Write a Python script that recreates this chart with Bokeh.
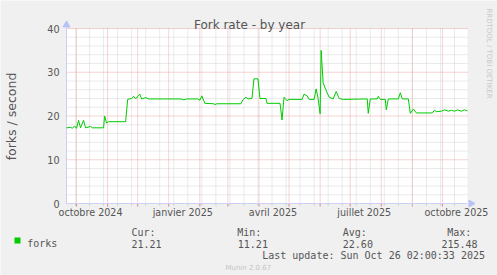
import math
import pandas as pd
from bokeh.plotting import figure
from bokeh.models import Label, Range1d, BoxAnnotation
from bokeh.core.properties import value
from bokeh.embed import file_html
from bokeh.resources import INLINE

# ---------------- data ----------------
START = pd.Timestamp("2024-09-21")
END = pd.Timestamp("2025-10-26")

dates = [
    "2024-09-21", "2024-09-25", "2024-09-27", "2024-09-29", "2024-10-01", "2024-10-03",
    "2024-10-05", "2024-10-08", "2024-10-10", "2024-10-15", "2024-10-17", "2024-10-28",
    "2024-10-29", "2024-10-31", "2024-11-02", "2024-11-19", "2024-11-21", "2024-11-25",
    "2024-11-27", "2024-11-29", "2024-12-03", "2024-12-05", "2024-12-09", "2024-12-12",
    "2025-01-13", "2025-01-16", "2025-01-19", "2025-01-30", "2025-02-01", "2025-02-03",
    "2025-02-06", "2025-02-15", "2025-02-16", "2025-02-18", "2025-03-14", "2025-03-16",
    "2025-03-19", "2025-03-21", "2025-03-25", "2025-03-27", "2025-03-31", "2025-04-02",
    "2025-04-08", "2025-04-09", "2025-04-22", "2025-04-24", "2025-04-26", "2025-04-29",
    "2025-05-01", "2025-05-14", "2025-05-16", "2025-05-19", "2025-05-21", "2025-05-26",
    "2025-05-28", "2025-05-30", "2025-06-01", "2025-06-02", "2025-06-04", "2025-06-06",
    "2025-06-08", "2025-06-10", "2025-06-14", "2025-06-17", "2025-06-20", "2025-06-24",
    "2025-07-18", "2025-07-19", "2025-07-21", "2025-07-28", "2025-07-29", "2025-07-31",
    "2025-08-05", "2025-08-06", "2025-08-08", "2025-08-18", "2025-08-20", "2025-08-22",
    "2025-08-28", "2025-08-30", "2025-09-02", "2025-09-05", "2025-09-21", "2025-09-23",
    "2025-09-25", "2025-09-30", "2025-10-03", "2025-10-07", "2025-10-10", "2025-10-13",
    "2025-10-16", "2025-10-20", "2025-10-23", "2025-10-26",
]
forks = [
    17.3, 17.4, 17.2, 17.7, 17.2, 19.0,
    17.3, 19.0, 17.3, 17.6, 17.3, 17.3,
    20.0, 18.4, 18.7, 18.7, 23.8, 24.0,
    24.5, 23.9, 25.0, 23.9, 24.2, 23.9,
    23.9, 23.7, 23.9, 23.9, 23.6, 24.6,
    22.9, 22.8, 22.6, 22.8, 22.8, 23.7,
    24.3, 23.9, 24.0, 28.5, 28.5, 24.0,
    24.0, 22.9, 22.9, 19.1, 24.3, 23.5,
    23.8, 23.8, 25.0, 24.6, 23.8, 23.8,
    26.2, 24.0, 20.5, 35.0, 27.6, 26.4,
    25.3, 24.3, 23.9, 25.6, 24.0, 23.8,
    23.9, 20.6, 23.9, 23.9, 24.5, 23.8,
    23.8, 21.4, 23.9, 23.9, 25.3, 23.9,
    23.9, 20.6, 21.6, 20.7, 20.7, 21.3,
    21.0, 21.1, 21.4, 21.1, 21.3, 21.1,
    21.4, 21.1, 21.4, 21.2,
]

month_starts = [
    "2024-10-01", "2024-11-01", "2024-12-01", "2025-01-01", "2025-02-01", "2025-03-01",
    "2025-04-01", "2025-05-01", "2025-06-01", "2025-07-01", "2025-08-01", "2025-09-01",
    "2025-10-01",
]
label_dates = ["2024-10-15", "2025-01-15", "2025-04-15", "2025-07-15", "2025-10-15"]
label_texts = ["octobre 2024", "janvier 2025", "avril 2025", "juillet 2025", "octobre 2025"]
y_ticks = [0, 10, 20, 30, 40]
y_minor = [2, 4, 6, 8, 12, 14, 16, 18, 22, 24, 26, 28, 32, 34, 36, 38]

legend_name = "forks"
stat_names = ["Cur:", "Min:", "Avg:", "Max:"]
stat_values = ["21.21", "11.21", "22.60", "215.48"]
title_text = "Fork rate - by year"
y_label = "forks / second"
last_update = "Last update: Sun Oct 26 02:00:33 2025"
footer = "Munin 2.0.67"
side_text = "RRDTOOL / TOBI OETIKER"


def off(s):
    return float((pd.Timestamp(s) - START).days)


xs = [off(d) for d in dates]
total = float((END - START).days)
month_x = [off(d) for d in month_starts]
minor_x = [float(v) for v in range(9, int(total) + 1, 14)]
label_x = [off(d) for d in label_dates]
YMAX = float(y_ticks[-1])

# ---------------- layout (pixels of the 497x275 canvas) ----------------
W, H = 497, 275
FL, FR, FT, FB = 66, 467, 28, 203   # plot area edges
kx = total / (FR - FL)
ky = YMAX / (FB - FT)


def X(px):
    return (px - FL) * kx


def Y(py):
    return (FB - py) * ky


p = figure(width=W, height=H, output_backend="svg", toolbar_location=None,
           x_range=Range1d(X(0), X(W)), y_range=Range1d(Y(H), Y(0)),
           x_axis_type=None, y_axis_type=None,
           min_border=0, min_border_left=0, min_border_right=0,
           min_border_top=0, min_border_bottom=0)
p.background_fill_color = "#F0F0F0"
p.border_fill_color = "#F0F0F0"
p.outline_line_color = None
p.grid.visible = False

AXC = "#CCD0F4"
ARROWC = "#B8C2F6"
GRID_MAJOR = "#EBA8A8"
GRID_MINOR = "#D4D4D4"
TXT = "#555555"
DJ = value("DejaVu Sans")

# plot area
p.quad(left=[0], right=[total], bottom=[0], top=[YMAX], fill_color="white",
       line_color=None, level="image")

# grid lines
p.segment(x0=minor_x, y0=0, x1=minor_x, y1=YMAX, line_color=GRID_MINOR,
          line_dash="1 1", line_width=1, level="underlay")
p.segment(x0=0, y0=y_minor, x1=total, y1=y_minor, line_color=GRID_MINOR,
          line_dash="1 1", line_width=1, level="underlay")
p.segment(x0=month_x, y0=0, x1=month_x, y1=YMAX, line_color=GRID_MAJOR,
          line_dash="1 1", line_width=1, level="underlay")
p.segment(x0=0, y0=y_ticks[1:], x1=total, y1=y_ticks[1:], line_color=GRID_MAJOR,
          line_dash="1 1", line_width=1, level="underlay")

# tick marks under the time axis
p.segment(x0=month_x, y0=0, x1=month_x, y1=-3 * ky, line_color="#E08080", line_width=1)
p.segment(x0=minor_x, y0=0, x1=minor_x, y1=-2 * ky, line_color="#C8C8C8", line_width=1)

# axis lines + arrows
p.segment(x0=[0, 0], y0=[0, 0], x1=[total, 0], y1=[0, YMAX], line_color=AXC, line_width=1)
p.scatter(x=[0], y=[YMAX + 3.5 * ky], marker="triangle", size=7, fill_color=ARROWC,
          line_color=ARROWC)
p.scatter(x=[total + 3.5 * kx], y=[0], marker="triangle", angle=-math.pi / 2, size=7,
          fill_color=ARROWC, line_color=ARROWC)

# tick labels
p.text(x=[X(59)] * len(y_ticks), y=y_ticks, text=[str(v) for v in y_ticks],
       text_align="right", text_baseline="middle", text_font=DJ,
       text_font_size="9.6px", text_color=TXT)
p.text(x=label_x, y=[Y(206.5)] * len(label_x), text=label_texts, text_align="center",
       text_baseline="top", text_font=DJ, text_font_size="9.6px", text_color=TXT)

# data line
p.line(xs, forks, line_color="#00CC00", line_width=1)


def lab(px, py, text, **kw):
    p.add_layout(Label(x=X(px), y=Y(py), text=text, **kw))


lab(249, 24.5, title_text, text_align="center", text_baseline="alphabetic",
    text_font="DejaVu Sans", text_font_size="12px", text_color=TXT)
lab(11, 116, y_label, angle=math.pi / 2, text_align="center", text_baseline="middle",
    text_font="DejaVu Sans", text_font_size="12.5px", text_color=TXT)
lab(488.5, 53, side_text, angle=-math.pi / 2, text_align="center", text_baseline="middle",
    text_font="DejaVu Sans", text_font_size="7px", text_color="#C8C8C8")

# legend
p.add_layout(BoxAnnotation(left=X(14), right=X(20), top=Y(237), bottom=Y(243),
                           fill_color="#00CC00", fill_alpha=1, line_color=None))
mono = dict(text_font="DejaVu Sans Mono", text_font_size="10px", text_color=TXT,
            text_baseline="alphabetic")
lab(26.7, 243.3, legend_name, **mono)
stat_x = [131, 236.7, 342.3, 446.7]
val_x = [131, 237.3, 342.3, 441]
for sx, name in zip(stat_x, stat_names):
    lab(sx, 231.5, name, **mono)
for vx, val in zip(val_x, stat_values):
    lab(vx, 243.3, val, **mono)
lab(261.7, 255.3, last_update, **mono)
lab(247.8, 267, footer, text_align="center", text_baseline="alphabetic",
    text_font="DejaVu Sans", text_font_size="7px", text_color="#C4C4C4")

open("out.html", "w").write(file_html(p, INLINE))
